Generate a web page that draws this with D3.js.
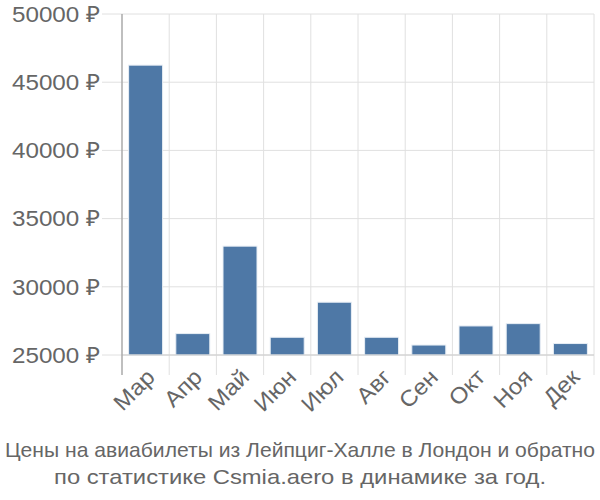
<!DOCTYPE html>
<html><head><meta charset="utf-8">
<script src="https://cdn.jsdelivr.net/npm/d3@7"></script>
<style>body{margin:0;background:#fff}</style>
</head><body>
<svg id="c" width="600" height="500"></svg>
<script>
const months = ["Мар","Апр","Май","Июн","Июл","Авг","Сен","Окт","Ноя","Дек"];
const prices = [46250, 26570, 32980, 26300, 28870, 26300, 25730, 27130, 27300, 25840];
const yTicks = [25000, 30000, 35000, 40000, 45000, 50000];
const titleLines = ["Цены на авиабилеты из Лейпциг-Халле в Лондон и обратно","по статистике Csmia.aero в динамике за год."];

(function () {
const svg = d3.select("#c");
const pl = 122, pr = 594, pt = 14, pb = 355;
const x = d3.scaleBand().domain(months).range([pl, pr]).paddingInner(0.28).paddingOuter(0.14);
const xb = d3.scaleBand().domain(months).range([pl, pr]);
const y = d3.scaleLinear().domain([25000, 50000]).range([pb, pt]);
const font = "'Liberation Sans', Arial, sans-serif";

svg.append("g").selectAll("line").data(yTicks).join("line")
  .attr("x1", pl - 20).attr("x2", pr).attr("y1", d => y(d)).attr("y2", d => y(d))
  .attr("stroke", "#e0e0e0").attr("stroke-width", 1);
const bounds = months.map(m => xb(m)).concat([pr]);
svg.append("g").selectAll("line").data(bounds.slice(1)).join("line")
  .attr("x1", d => d).attr("x2", d => d).attr("y1", pt).attr("y2", pb + 20)
  .attr("stroke", "#e0e0e0").attr("stroke-width", 1);
svg.append("g").selectAll("rect").data(prices).join("rect")
  .attr("x", (d, i) => x(months[i])).attr("width", x.bandwidth())
  .attr("y", d => y(d)).attr("height", d => pb - y(d))
  .attr("fill", "#4e78a6").attr("stroke", "#e8eef5").attr("stroke-width", 1);
svg.append("line").attr("x1", pl).attr("x2", pr).attr("y1", pb).attr("y2", pb)
  .attr("stroke", "#cccccc").attr("stroke-width", 1);
svg.append("line").attr("x1", pl).attr("x2", pl).attr("y1", pt).attr("y2", pb + 20)
  .attr("stroke", "#aaaaaa").attr("stroke-width", 1.5);
svg.append("g").selectAll("text").data(yTicks).join("text")
  .attr("x", 100).attr("y", d => y(d)).attr("dy", "0.35em")
  .attr("text-anchor", "end").attr("font-family", font).attr("font-size", 22.5)
  .attr("textLength", 88).attr("lengthAdjust", "spacingAndGlyphs")
  .attr("fill", "#666").text(d => d + " ₽");
svg.append("g").selectAll("text").data(months).join("text")
  .attr("transform", d => `translate(${x(d) + x.bandwidth()/2 + 5},${pb + 18}) rotate(-45)`)
  .attr("text-anchor", "end").attr("font-family", font).attr("font-size", 22.5)
  .attr("fill", "#666").attr("dy", "0.35em").text(d => d)
  .each(function () { this.setAttribute("textLength", this.getComputedTextLength() * 1.07); this.setAttribute("lengthAdjust", "spacingAndGlyphs"); });
const tl = [590, 492];
svg.append("g").selectAll("text").data(titleLines).join("text")
  .attr("x", 300).attr("y", (d, i) => 457 + i * 26.5).attr("text-anchor", "middle")
  .attr("font-family", font).attr("font-size", 21)
  .attr("textLength", (d, i) => tl[i]).attr("lengthAdjust", "spacingAndGlyphs")
  .attr("fill", "#666").text(d => d);
})();
</script>
</body></html>
